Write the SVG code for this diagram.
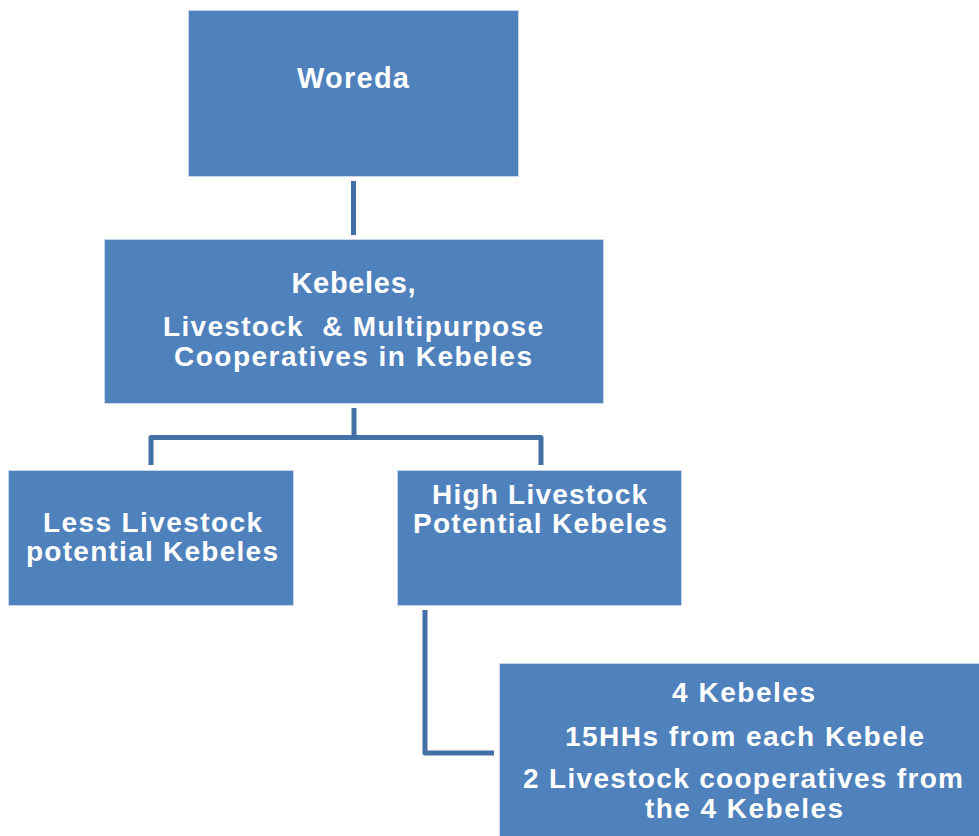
<svg xmlns="http://www.w3.org/2000/svg" width="979" height="836" viewBox="0 0 979 836">
<style>
.box{fill:#4F81BD;stroke:#C9D7EA;stroke-width:1}
.t{fill:#FFFFFF;font-family:"Liberation Sans",Arial,sans-serif;font-weight:bold;text-anchor:middle}
.conn{fill:none;stroke:#4470A8;stroke-width:5;stroke-linejoin:round}
</style>
<rect width="979" height="836" fill="#FFFFFF"/>
<g id="connectors">
<path class="conn" d="M353.5,181 V235"/>
<path class="conn" d="M354,408 V437.5 M151,465 V437.5 H541 V465"/>
<path class="conn" d="M425,610 V753 H494"/>
</g>
<g id="woreda">
<rect class="box" x="188.5" y="10.5" width="330" height="166"/>
<text class="t" x="353" y="88" font-size="29" textLength="112">Woreda</text>
</g>
<g id="kebeles">
<rect class="box" x="104.5" y="239.5" width="499" height="164"/>
<text class="t" x="353.5" y="293" font-size="29" textLength="124">Kebeles,</text>
<text class="t" x="353" y="336" font-size="28" textLength="380" xml:space="preserve">Livestock  &amp; Multipurpose</text>
<text class="t" x="353" y="366" font-size="28" textLength="358">Cooperatives in Kebeles</text>
</g>
<g id="less">
<rect class="box" x="8.5" y="470.5" width="285" height="135"/>
<text class="t" x="152.5" y="532" font-size="28" textLength="219">Less Livestock</text>
<text class="t" x="152" y="561" font-size="28" textLength="252">potential Kebeles</text>
</g>
<g id="high">
<rect class="box" x="397.5" y="470.5" width="284" height="135"/>
<text class="t" x="539.5" y="504" font-size="28" textLength="215">High Livestock</text>
<text class="t" x="540" y="533" font-size="28" textLength="254">Potential Kebeles</text>
</g>
<g id="sample">
<rect class="box" x="499.5" y="663.5" width="480" height="174"/>
<text class="t" x="743.5" y="702" font-size="28" textLength="143">4 Kebeles</text>
<text class="t" x="744.5" y="746" font-size="28" textLength="359">15HHs from each Kebele</text>
<text class="t" x="743" y="788" font-size="28" textLength="440">2 Livestock cooperatives from</text>
<text class="t" x="744" y="818" font-size="28" textLength="198">the 4 Kebeles</text>
</g>
</svg>
